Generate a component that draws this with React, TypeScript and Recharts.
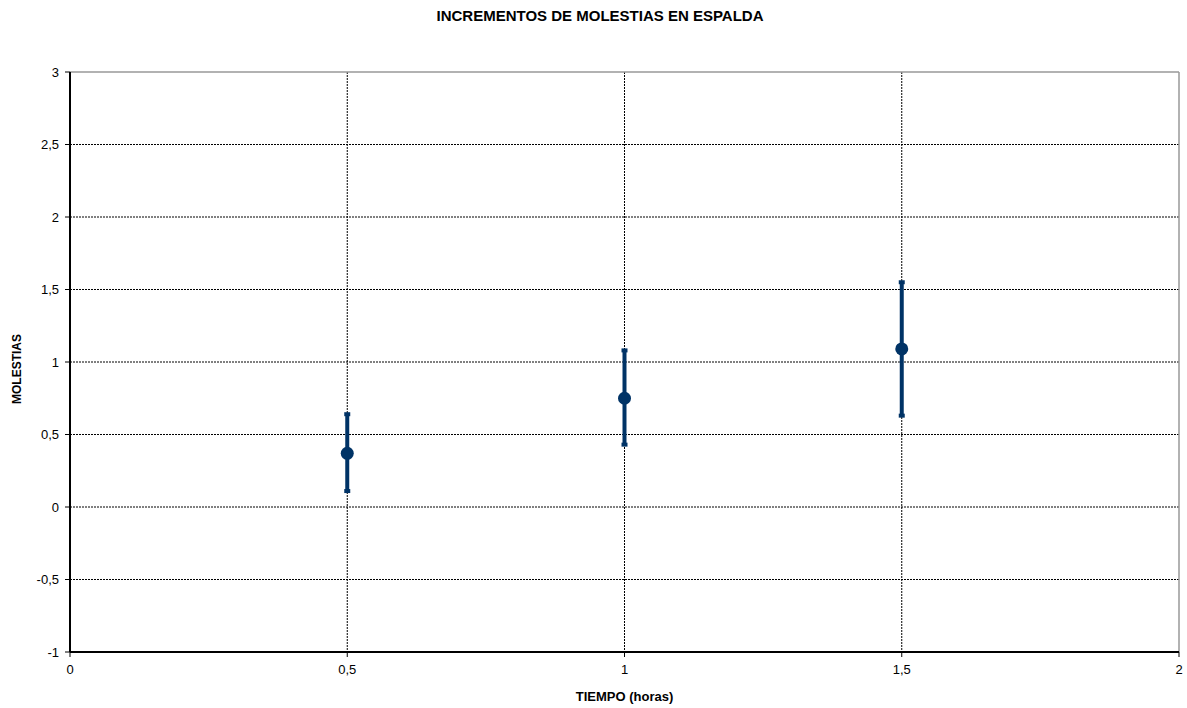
import React from "react";
import {
  ScatterChart,
  Scatter,
  XAxis,
  YAxis,
  CartesianGrid,
  ErrorBar,
  ReferenceLine,
} from "recharts";

const times = [0.5, 1, 1.5];
const means = [0.37, 0.75, 1.09];
const errDown = [0.26, 0.32, 0.46];
const errUp = [0.27, 0.33, 0.46];

const xTicks = [0, 0.5, 1, 1.5, 2];
const yTicks = [-1, -0.5, 0, 0.5, 1, 1.5, 2, 2.5, 3];

const data = times.map((t, i) => ({
  x: t,
  y: means[i],
  err: [errDown[i], errUp[i]],
}));

const NAVY = "#003366";
const FONT = "'Liberation Sans', Arial, sans-serif";

const fmt = (v: number) => String(v).replace(".", ",");

const Dot = (props: any) => {
  const { cx, cy } = props;
  return <circle cx={cx} cy={cy} r={6.5} fill={NAVY} />;
};

export default function App() {
  return (
    <div
      style={{
        position: "absolute",
        left: 0,
        top: 0,
        width: 1187,
        height: 708,
        background: "#fff",
        fontFamily: FONT,
      }}
    >
      <div
        style={{
          position: "absolute",
          top: 7,
          left: 0,
          width: 1200,
          textAlign: "center",
          fontSize: 15,
          fontWeight: "bold",
        }}
      >
        INCREMENTOS DE MOLESTIAS EN ESPALDA
      </div>
      <div
        style={{
          position: "absolute",
          left: 17,
          top: 369,
          transform: "translate(-50%, -50%) rotate(-90deg)",
          fontSize: 12,
          fontWeight: "bold",
          whiteSpace: "nowrap",
        }}
      >
        MOLESTIAS
      </div>
      <div
        style={{
          position: "absolute",
          top: 689,
          left: 70,
          width: 1109,
          textAlign: "center",
          fontSize: 13,
          fontWeight: "bold",
        }}
      >
        TIEMPO (horas)
      </div>
      <ScatterChart
        width={1187}
        height={708}
        margin={{ top: 72, right: 8, bottom: 26, left: 10 }}
      >
        <CartesianGrid
          stroke="#000"
          strokeDasharray="2 1"
          horizontalValues={[-0.5, 0, 0.5, 1, 1.5, 2, 2.5]}
          verticalValues={[0.5, 1, 1.5]}
        />
        <ReferenceLine y={3} stroke="#999" strokeWidth={1.5} />
        <ReferenceLine x={2} stroke="#999" strokeWidth={1.5} />
        <XAxis
          type="number"
          dataKey="x"
          domain={[0, 2]}
          ticks={xTicks}
          tickFormatter={fmt}
          height={30}
          tickSize={5}
          tickMargin={8}
          axisLine={{ stroke: "#000", strokeWidth: 2 }}
          tickLine={{ stroke: "#000" }}
          tick={{ fontSize: 13, fill: "#000", fontFamily: FONT }}
          interval={0}
        />
        <YAxis
          type="number"
          dataKey="y"
          domain={[-1, 3]}
          ticks={yTicks}
          tickFormatter={fmt}
          width={60}
          tickSize={5}
          tickMargin={6}
          axisLine={{ stroke: "#000", strokeWidth: 2 }}
          tickLine={{ stroke: "#000" }}
          tick={{ fontSize: 13, fill: "#000", fontFamily: FONT }}
          interval={0}
        />
        <Scatter
          data={data}
          fill={NAVY}
          shape={<Dot />}
          isAnimationActive={false}
        >
          <ErrorBar
            dataKey="err"
            direction="y"
            width={3}
            strokeWidth={4}
            stroke={NAVY}
            isAnimationActive={false}
          />
        </Scatter>
      </ScatterChart>
    </div>
  );
}
